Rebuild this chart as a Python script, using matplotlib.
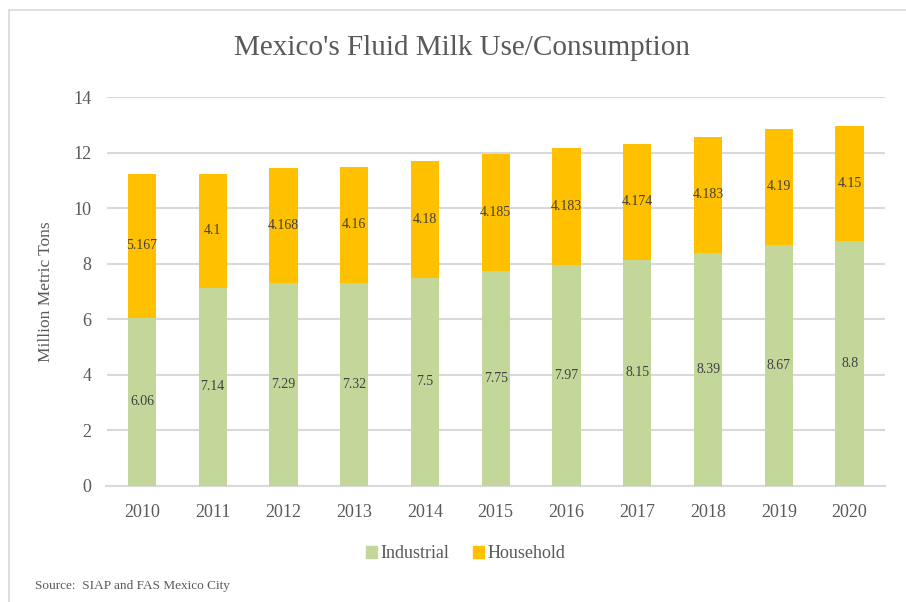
import matplotlib.pyplot as plt
from matplotlib.patches import Rectangle

years = ['2010', '2011', '2012', '2013', '2014', '2015', '2016', '2017', '2018', '2019', '2020']
industrial = [6.06, 7.14, 7.29, 7.32, 7.5, 7.75, 7.97, 8.15, 8.39, 8.67, 8.8]
household = [5.167, 4.1, 4.168, 4.16, 4.18, 4.185, 4.183, 4.174, 4.183, 4.19, 4.15]

plt.rcParams['font.family'] = ['Liberation Serif', 'DejaVu Serif']

green = '#c4d79b'
gold = '#ffc000'
grey_txt = '#595959'

fig = plt.figure(figsize=(9.06, 6.02), dpi=100)
ax = fig.add_axes([106.5/906, 116/602, (885-106.5)/906, (486-97)/602])

x = range(len(years))
ax.bar(x, industrial, width=0.4, color=green, zorder=3)
ax.bar(x, household, width=0.4, bottom=industrial, color=gold, zorder=3)

for i in x:
    ax.text(i, industrial[i]/2, f'{industrial[i]:g}', ha='center', va='center',
            fontsize=10, color='#404040', zorder=4)
    ax.text(i, industrial[i] + household[i]/2, f'{household[i]:g}', ha='center', va='center',
            fontsize=10, color='#404040', zorder=4)

ax.set_xlim(-0.5, len(years) - 0.5)
ax.set_ylim(0, 14)
ax.set_yticks(range(0, 15, 2))
ax.set_xticks(list(x))
ax.set_xticklabels(years)
ax.yaxis.grid(True, color='#d9d9d9', linewidth=1.5, zorder=0)
for s in ['top', 'right', 'left']:
    ax.spines[s].set_visible(False)
ax.spines['bottom'].set_color('#d9d9d9')
ax.spines['bottom'].set_linewidth(1.5)
ax.tick_params(length=0, labelsize=13, colors=grey_txt, pad=13)
ax.tick_params(axis='y', pad=11)
ax.set_ylabel('Million Metric Tons', fontsize=12.5, color=grey_txt, labelpad=14)

fig.text(462/906, 1 - 48/602, "Mexico's Fluid Milk Use/Consumption", ha='center', va='center',
         fontsize=21, color=grey_txt)

h1 = Rectangle((0, 0), 1, 1, color=green)
h2 = Rectangle((0, 0), 1, 1, color=gold)
fig.legend([h1, h2], ['Industrial', 'Household'], loc='center', ncol=2,
           bbox_to_anchor=(466/906, 1 - 554/602), frameon=False, fontsize=13,
           handlelength=0.6, handleheight=0.6, handletextpad=0.2, columnspacing=1.3,
           labelcolor=grey_txt)

fig.text(35/906, 1 - 586/602, 'Source:  SIAP and FAS Mexico City', ha='left', va='center',
         fontsize=9.5, color=grey_txt)

# light frame of the chart area, running off the right and bottom edges
fig.patches.append(Rectangle((8.5/906, -0.05), 1.1, 1 - 10/602 + 0.05, transform=fig.transFigure,
                             fill=False, edgecolor='#d9d9d9', linewidth=1.2))

fig.savefig('out.png', dpi=100)
